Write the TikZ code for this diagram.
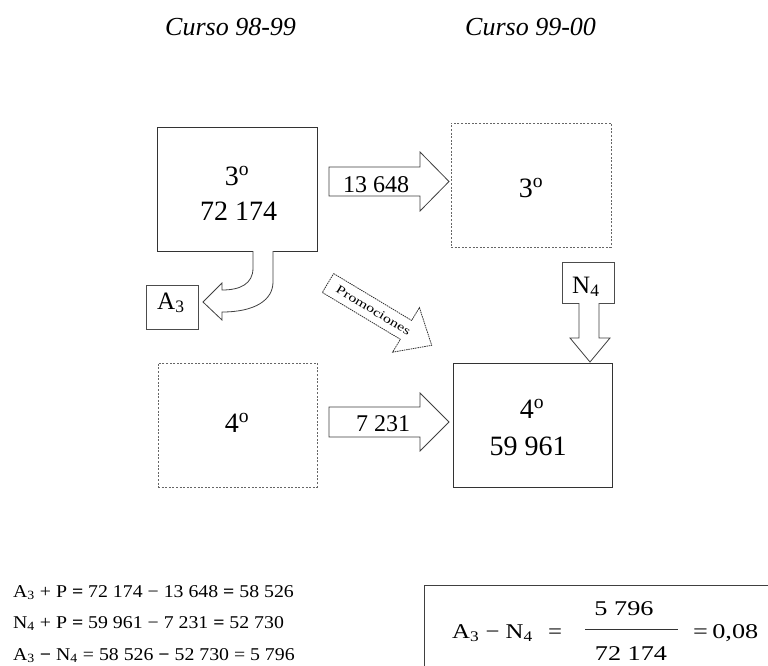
\documentclass[tikz,border=0pt]{standalone}
\usepackage{fontspec}
\setmainfont{Liberation Serif}
\newcommand{\ordo}{\textsuperscript{o}}
\begin{document}
\begin{tikzpicture}[x=1pt,y=-1pt,
  solidbox/.style={draw=black!80, line width=0.9pt, inner sep=0pt},
  dashbox/.style={draw=black!60, line width=0.7pt, dash pattern=on 2pt off 1.6pt, inner sep=0pt},
  blockarrow/.style={draw=black!75, line width=0.8pt, fill=white, line join=miter},
  boxtext/.style={font=\fontsize{28}{28}\selectfont, anchor=base, inner sep=0pt},
  arrtext/.style={font=\fontsize{24}{24}\selectfont, anchor=base, inner sep=0pt},
  titletext/.style={font=\fontsize{26}{26}\selectfont\itshape, anchor=base west, inner sep=0pt},
  labtext/.style={font=\fontsize{25}{25}\selectfont, anchor=base west, inner sep=0pt},
  formtext/.style={font=\fontsize{18}{18}\selectfont, anchor=base west, inner sep=0pt},
  bigform/.style={font=\fontsize{21}{21}\selectfont, inner sep=0pt}]
\useasboundingbox (0,0) rectangle (768,665);
\fill[white] (0,0) rectangle (768,665);
\clip (0,0) rectangle (768,665);

% titles
\node[titletext] (t1) at (165,35) {Curso 98-99};
\node[titletext] (t2) at (465,35) {Curso 99-00};

% boxes
\node[solidbox, minimum width=160pt, minimum height=124pt] (b3a) at (237,189) {};
\node[dashbox, minimum width=160pt, minimum height=124pt] (b3b) at (531,185) {};
\node[dashbox, minimum width=159pt, minimum height=124pt] (b4a) at (237.5,425) {};
\node[solidbox, minimum width=159pt, minimum height=124pt] (b4b) at (532.5,425) {};
\node[solidbox, draw=black!70, line width=0.8pt, minimum width=52pt, minimum height=44pt] (ba3) at (172,307) {};
\node[solidbox, draw=black!70, line width=0.8pt, minimum width=52pt, minimum height=41pt] (bn4) at (588,282.5) {};

% box texts
\node[boxtext] (x3a) at (237,185) {3\ordo};
\node[boxtext] (x3n) at (238.5,220) {72 174};
\node[boxtext] (x3b) at (531,197) {3\ordo};
\node[boxtext] (x4a) at (237,432) {4\ordo};
\node[boxtext] (x4b) at (532,418) {4\ordo};
\node[boxtext] (x4n) at (528,455) {59 961};
\node[labtext] (la3) at (157,309) {A\textsubscript{3}};
\node[labtext] (ln4) at (572,293) {N\textsubscript{4}};

% arrow 13 648
\draw[blockarrow] (329,167) -- (420,167) -- (420,152) -- (449,181.5) -- (420,211) -- (420,196) -- (329,196) -- cycle;
\node[arrtext] (a1) at (376,192) {13 648};

% arrow 7 231
\draw[blockarrow] (329,407) -- (420,407) -- (420,393) -- (449,422) -- (420,451) -- (420,437) -- (329,437) -- cycle;
\node[arrtext] (a2) at (383,431) {7 231};

% arrow N4 down
\draw[blockarrow] (579,303) -- (579,338) -- (570,338) -- (590,362) -- (610,338) -- (599,338) -- (599,303);

% curved arrow to A3
\draw[blockarrow] (253,251) -- (253,268) .. controls (253,284) and (240,290) .. (222,290) -- (222,283) -- (203,302) -- (222,320) -- (222,312) .. controls (255,312) and (273,300) .. (273,282) -- (273,251);

% Promociones arrow
\begin{scope}[shift={(328,283)}, rotate=-31]
  \draw[blockarrow, draw=black!80, dash pattern=on 1.5pt off 0.8pt] (0,-11) -- (91,-11) -- (91,-26) -- (121,0) -- (91,26) -- (91,11) -- (0,11) -- cycle;
  \node[inner sep=0pt, rotate=-31, font=\fontsize{12}{12}\selectfont] (pr) at (53,0) {\scalebox{1.35}[1]{Promociones}};
\end{scope}

% formulas left
\node[formtext] (f1) at (13,597) {\scalebox{1.1}[1]{A\textsubscript{3} + P \textbf{=} 72 174 − 13 648 \textbf{=} 58 526}};
\node[formtext] (f2) at (13,628) {\scalebox{1.1}[1]{N\textsubscript{4} + P \textbf{=} 59 961 − 7 231 \textbf{=} 52 730}};
\node[formtext] (f3) at (13,660) {\scalebox{1.1}[1]{A\textsubscript{3} \textbf{−} N\textsubscript{4} = 58 526 \textbf{−} 52 730 = 5 796}};

% formula box
\draw[draw=black!75, line width=1pt] (424,585) rectangle (800,700);
\node[bigform, anchor=base west] (g1) at (452,638) {\scalebox{1.18}[1]{A\textsubscript{3} − N\textsubscript{4}}};
\node[bigform, anchor=base] (g2) at (555,638) {\scalebox{1.18}[1]{=}};
\node[bigform, anchor=base] (g3) at (624,615) {\scalebox{1.25}[1]{5 796}};
\node[bigform, anchor=base] (g4) at (631,660) {\scalebox{1.25}[1]{72 174}};
\draw[line width=1pt, black!80] (585,629) -- (678,629);
\node[bigform, anchor=base west] (g5) at (693,638) {\scalebox{1.25}[1]{=\,0,08}};
\end{tikzpicture}
\end{document}
